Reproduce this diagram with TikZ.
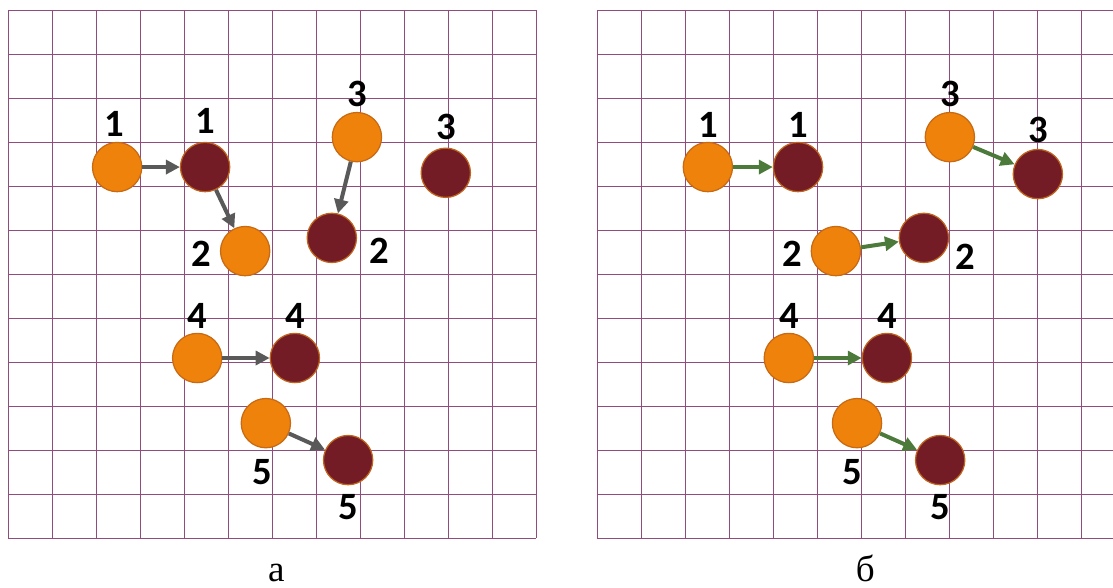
\documentclass[tikz,border=0pt]{standalone}
\usepackage{fontspec}
\setmainfont{Liberation Serif}
\newfontfamily\numfont{Carlito}
\usetikzlibrary{positioning,arrows.meta}

\definecolor{gridpurple}{RGB}{145,75,125}
\definecolor{ballorange}{RGB}{239,130,10}
\definecolor{ballorangeedge}{RGB}{200,106,20}
\definecolor{ballred}{RGB}{115,28,38}
\definecolor{ballrededge}{RGB}{190,100,30}
\definecolor{arrowgray}{RGB}{89,89,89}
\definecolor{arrowgreen}{RGB}{76,122,58}

\begin{document}
\begin{tikzpicture}[
    gridline/.style={gridpurple,line width=0.6pt},
    startball/.style={circle,fill=ballorange,draw=ballorangeedge,line width=0.8pt,minimum size=1.12cm,inner sep=0pt},
    endball/.style={circle,fill=ballred,draw=ballrededge,line width=0.8pt,minimum size=1.12cm,inner sep=0pt},
    numlbl/.style={inner sep=0pt,font=\numfont\bfseries\fontsize{25}{29}\selectfont},
    shiftgray/.style={arrowgray,line width=2.6pt,-{Triangle[length=9pt,width=9pt]}},
    shiftgreen/.style={arrowgreen,line width=2.6pt,-{Triangle[length=9pt,width=9pt]}},
    panelname/.style={font=\fontsize{24}{28}\selectfont,anchor=base}
]
    \useasboundingbox (-0.182,-1.136) rectangle (25.114,12.227);
    \clip (-0.182,-1.136) rectangle (25.114,12.227);

    % 左图 (а)
    \begin{scope}
        % 绘制网格
        \draw[gridline] (0,0) grid (12,12);

        % 初始位置与最终位置的小球
        \node[startball] (a-o1) at (2.48,8.43) {};
        \node[endball]   (a-d1) at (4.48,8.43) {};
        \node[startball] (a-o2) at (5.39,6.52) {};
        \node[endball]   (a-d2) at (7.36,6.82) {};
        \node[startball] (a-o3) at (7.93,9.11) {};
        \node[endball]   (a-d3) at (9.95,8.30) {};
        \node[startball] (a-o4) at (4.30,4.09) {};
        \node[endball]   (a-d4) at (6.52,4.09) {};
        \node[startball] (a-o5) at (5.86,2.61) {};
        \node[endball]   (a-d5) at (7.73,1.77) {};

        % 编号
        \node[numlbl,above=0.12cm of a-o1,xshift=-0.07cm] (a-n1) {1};
        \node[numlbl,above=0.18cm of a-d1] (a-m1) {1};
        \node[numlbl,left=0.2cm of a-o2,yshift=-0.07cm] (a-n2) {2};
        \node[numlbl,right=0.28cm of a-d2,yshift=-0.3cm] (a-m2) {2};
        \node[numlbl,above=0.12cm of a-o3] (a-n3) {3};
        \node[numlbl,above=0.16cm of a-d3] (a-m3) {3};
        \node[numlbl,above=0.1cm of a-o4] (a-n4) {4};
        \node[numlbl,above=0.1cm of a-d4] (a-m4) {4};
        \node[numlbl,below=0.24cm of a-o5,xshift=-0.07cm] (a-n5) {5};
        \node[numlbl,below=0.2cm of a-d5] (a-m5) {5};

        % 位移箭头
        \draw[shiftgray] (a-o1) -- (a-d1);
        \draw[shiftgray] (a-d1) -- (a-o2);
        \draw[shiftgray] (a-o3) -- (a-d2);
        \draw[shiftgray] (a-o4) -- (a-d4);
        \draw[shiftgray] (a-o5) -- (a-d5);

        \node[panelname] (a-cap) at (6.1,-1.0) {а};
    \end{scope}

    % 右图 (б)
    \begin{scope}[xshift=13.386cm]
        % 绘制网格
        \draw[gridline] (0,0) grid (12,12);

        % 初始位置与最终位置的小球
        \node[startball] (b-o1) at (2.52,8.43) {};
        \node[endball]   (b-d1) at (4.57,8.43) {};
        \node[startball] (b-o2) at (5.43,6.52) {};
        \node[endball]   (b-d2) at (7.43,6.82) {};
        \node[startball] (b-o3) at (8.02,9.11) {};
        \node[endball]   (b-d3) at (10.02,8.27) {};
        \node[startball] (b-o4) at (4.36,4.09) {};
        \node[endball]   (b-d4) at (6.59,4.09) {};
        \node[startball] (b-o5) at (5.91,2.61) {};
        \node[endball]   (b-d5) at (7.80,1.77) {};

        % 编号
        \node[numlbl,above=0.1cm of b-o1] (b-n1) {1};
        \node[numlbl,above=0.1cm of b-d1] (b-m1) {1};
        \node[numlbl,left=0.18cm of b-o2,yshift=-0.07cm] (b-n2) {2};
        \node[numlbl,right=0.14cm of b-d2,yshift=-0.43cm] (b-m2) {2};
        \node[numlbl,above=0.12cm of b-o3] (b-n3) {3};
        \node[numlbl,above=0.12cm of b-d3] (b-m3) {3};
        \node[numlbl,above=0.1cm of b-o4] (b-n4) {4};
        \node[numlbl,above=0.1cm of b-d4] (b-m4) {4};
        \node[numlbl,below=0.24cm of b-o5,xshift=-0.1cm] (b-n5) {5};
        \node[numlbl,below=0.2cm of b-d5] (b-m5) {5};

        % 位移箭头
        \draw[shiftgreen] (b-o1) -- (b-d1);
        \draw[shiftgreen] (b-o3) -- (b-d3);
        \draw[shiftgreen] (b-o2) -- (b-d2);
        \draw[shiftgreen] (b-o4) -- (b-d4);
        \draw[shiftgreen] (b-o5) -- (b-d5);

        \node[panelname] (b-cap) at (6.1,-1.0) {б};
    \end{scope}
\end{tikzpicture}
\end{document}
